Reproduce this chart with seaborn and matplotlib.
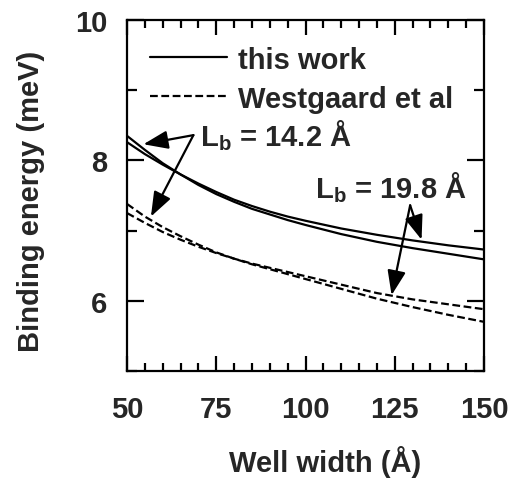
"""
Exciton binding energy vs well width - this work vs Westgaard et al
"""

import matplotlib
matplotlib.use("Agg")
import matplotlib.pyplot as plt
from matplotlib.ticker import MultipleLocator
import pandas as pd
import seaborn as sns

# well widths (Angstrom)
widths = [50, 55, 60, 65, 70, 75, 80, 85, 90, 95, 100, 110, 120, 130, 140, 150]

# binding energies (meV)
this_work_142 = [8.35, 8.15, 7.96, 7.80, 7.65, 7.52, 7.41, 7.31, 7.23, 7.15, 7.08,
                 6.95, 6.84, 6.75, 6.67, 6.59]
this_work_198 = [8.26, 8.09, 7.94, 7.80, 7.67, 7.55, 7.44, 7.35, 7.27, 7.20, 7.14,
                 7.03, 6.94, 6.86, 6.79, 6.73]
westgaard_142 = [7.38, 7.20, 7.05, 6.92, 6.80, 6.69, 6.60, 6.52, 6.45, 6.38, 6.31,
                 6.17, 6.03, 5.91, 5.80, 5.70]
westgaard_198 = [7.25, 7.11, 6.98, 6.87, 6.77, 6.68, 6.60, 6.53, 6.47, 6.41, 6.35,
                 6.23, 6.11, 6.02, 5.95, 5.88]

legend_labels = ["this work", "Westgaard et al"]
lb_labels = ["L$_{\\mathbf{b}}$ = 14.2 Å", "L$_{\\mathbf{b}}$ = 19.8 Å"]

FS = 21

sns.set_style("ticks")
plt.rcParams["font.family"] = ["Liberation Sans", "DejaVu Sans"]
plt.rcParams["font.weight"] = "bold"
plt.rcParams["mathtext.fontset"] = "custom"
plt.rcParams["mathtext.bf"] = "Liberation Sans:bold"
plt.rcParams["mathtext.rm"] = "Liberation Sans:bold"
plt.rcParams["mathtext.it"] = "Liberation Sans:bold"

fig = plt.figure(figsize=(5.09, 4.85), dpi=100)
ax = fig.add_axes([0.2495, 0.233, 0.7015, 0.7237])

curves = [
    (this_work_142, "-", legend_labels[0]),
    (this_work_198, "-", None),
    (westgaard_142, "--", legend_labels[1]),
    (westgaard_198, "--", None),
]
handles = []
for vals, ls, lab in curves:
    df = pd.DataFrame({"w": widths, "e": vals})
    sns.lineplot(data=df, x="w", y="e", ax=ax, color="black", lw=1.6,
                 linestyle=ls, legend=False)
    line = ax.lines[-1]
    if ls == "--":
        line.set_dashes((3.5, 1.6))
    if lab:
        line.set_label(lab)
        handles.append(line)

ax.legend(handles=handles, loc="upper left", bbox_to_anchor=(0.064, 0.927),
          frameon=False, fontsize=FS, handlelength=2.64, handletextpad=0.38,
          labelspacing=0.38, borderaxespad=0, borderpad=0)

# L_b annotations
ax.text(70.4, 8.215, lb_labels[0], fontsize=FS, fontweight="bold")
ax.text(102.7, 7.48, lb_labels[1], fontsize=FS, fontweight="bold")

arrow = dict(arrowstyle="-|>,head_length=0.75,head_width=0.28", color="black",
             lw=1.6, mutation_scale=20, shrinkA=0, shrinkB=0)
for tip in [(54.6, 8.23), (56.7, 7.20)]:
    ax.annotate("", xy=tip, xytext=(68.6, 8.36), arrowprops=arrow)
for tip in [(132.5, 6.87), (124.1, 6.08)]:
    ax.annotate("", xy=tip, xytext=(129.3, 7.36), arrowprops=arrow)

ax.set_xlim(50, 150)
ax.set_ylim(5, 10)
ax.xaxis.set_major_locator(MultipleLocator(25))
ax.xaxis.set_minor_locator(MultipleLocator(5))
ax.yaxis.set_major_locator(MultipleLocator(2))
ax.yaxis.set_minor_locator(MultipleLocator(1))

for s in ax.spines.values():
    s.set_visible(True)
    s.set_linewidth(1.6)
    s.set_color("black")

ax.tick_params(which="both", direction="in", top=True, right=True,
               color="black", width=1.6, labelsize=FS)
ax.tick_params(axis="x", which="major", length=11, pad=17)
ax.tick_params(axis="x", which="minor", length=5.5)
ax.tick_params(axis="y", which="major", length=12, pad=14)
ax.tick_params(axis="y", which="minor", length=7)
for lab in ax.get_xticklabels() + ax.get_yticklabels():
    lab.set_fontweight("bold")

ax.set_xlabel("Well width (Å)", fontsize=FS, fontweight="bold")
ax.set_ylabel("Binding energy (meV)", fontsize=FS, fontweight="bold")
ax.xaxis.set_label_coords(0.555, -0.212)
ax.yaxis.set_label_coords(-0.23, 0.487)

plt.savefig("out.png", dpi=100)
plt.close()
